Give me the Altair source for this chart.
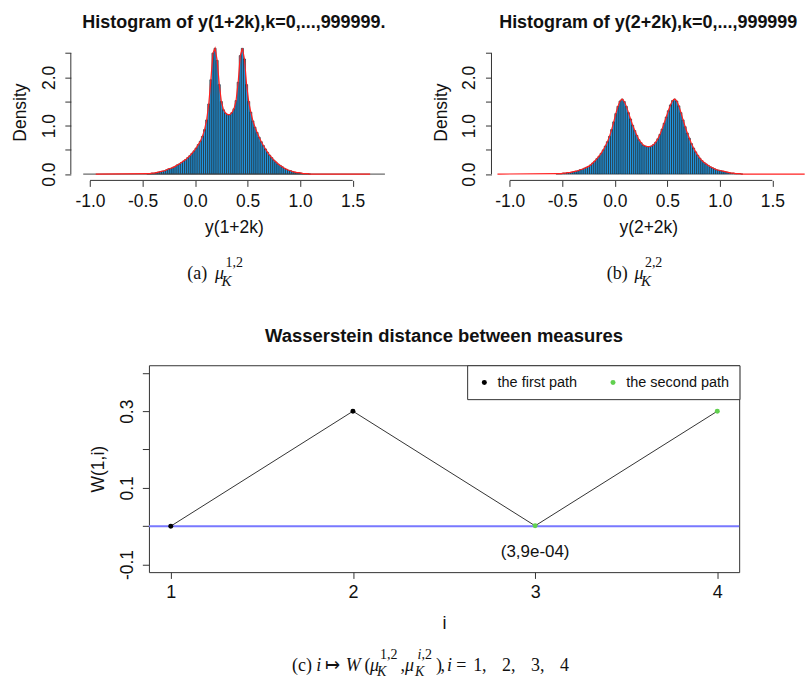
import altair as alt
import pandas as pd

# ---------------------------------------------------------------- data
BIN_W = 0.02

# (a) histogram of y(1+2k): density per 0.02-wide bin, first bin starts at -0.46
A_FIRST_BIN = -0.46
A_DENSITY = [
    0.01, 0.01, 0.02, 0.02, 0.03, 0.04, 0.05, 0.06, 0.07, 0.09,
    0.11, 0.12, 0.14, 0.16, 0.19, 0.21, 0.24, 0.27, 0.30, 0.34,
    0.38, 0.43, 0.48,
    0.54, 0.61, 0.68, 0.78, 0.92, 1.12, 1.45, 1.95, 2.50, 2.60,
    2.35, 1.85, 1.50, 1.33, 1.26, 1.23, 1.23, 1.27, 1.35, 1.52,
    1.90, 2.45, 2.60, 2.38, 1.85, 1.50, 1.28, 1.10, 0.97, 0.86,
    0.76, 0.67, 0.59, 0.52, 0.45, 0.39, 0.34, 0.29, 0.25, 0.21,
    0.18, 0.15, 0.12, 0.10, 0.08, 0.07, 0.05, 0.04, 0.03, 0.03,
    0.02, 0.01, 0.01, 0.01, 0.00,
]
A_CURVE_ENDS = [-0.946, 1.666]
A_BASELINE_ENDS = [-1.065, 1.807]

# (b) histogram of y(2+2k), first bin starts at -0.56
B_FIRST_BIN = -0.56
B_DENSITY = [
    0.01, 0.01, 0.01, 0.02, 0.02, 0.03, 0.03, 0.04, 0.05, 0.06,
    0.07, 0.09, 0.10, 0.12, 0.14, 0.16, 0.19, 0.23, 0.27, 0.32,
    0.37, 0.43, 0.50, 0.58, 0.67, 0.78, 0.92, 1.08,
    1.25, 1.40, 1.51, 1.55, 1.50, 1.40, 1.27, 1.14, 1.01, 0.90,
    0.80, 0.71, 0.65, 0.60, 0.58, 0.57, 0.57, 0.58, 0.61, 0.66,
    0.73, 0.82, 0.93, 1.05, 1.18, 1.31, 1.43, 1.52, 1.55, 1.51,
    1.41, 1.27, 1.12, 0.98, 0.85, 0.74, 0.63, 0.54, 0.46, 0.39,
    0.33, 0.28, 0.24, 0.21, 0.18, 0.15, 0.13, 0.11, 0.09, 0.08,
    0.07, 0.06, 0.05, 0.04, 0.03, 0.02, 0.02, 0.01, 0.01, 0.01, 0.00,
]
B_CURVE_ENDS = [-1.117, 1.808]

HIST_X_TICKS = [-1.0, -0.5, 0.0, 0.5, 1.0, 1.5]
HIST_Y_TICKS = [0.0, 0.5, 1.0, 1.5, 2.0, 2.5]

# (c) Wasserstein distances
W_I = [1, 2, 3, 4]
W_VALUE = [0.0, 0.3, 0.0009, 0.3]
W_PATH = ["the first path", "the first path", "the second path", "the second path"]
PATH_NAMES = ["the first path", "the second path"]
W_X_TICKS = [1, 2, 3, 4]
W_Y_TICKS = [-0.1, 0.0, 0.1, 0.2, 0.3, 0.4]
ANNOT_TEXT = ["(3,9e-04)"]
ANNOT_X = [3]
ANNOT_Y = [-0.081]

# ---------------------------------------------------------------- style / layout
SANS = "Liberation Sans, Arial, sans-serif"
SERIF = "Liberation Serif, Times New Roman, serif"
TEXT = "#111111"
AXC = "#333333"
BAR_FILL = "#2196e0"
BAR_EDGE = "#1b1b1b"
RED = "#ff2020"
BLUE = "#7878ff"
GREEN = "#61d04f"

HIST_H = 137
HIST_YDOM = [-0.13, 2.695]
A_W = 327
A_XDOM = [-1.183, 1.922]
B_W = 314.3
B_XDOM = [-1.174, 1.811]
A_ORIGIN = (70.0, 42.0)
B_ORIGIN = (491.7, 42.0)
C_ORIGIN = (148.3, 364.3)

W_W = 591.7
W_H = 207.4
W_XDOM = [0.88, 4.12]
W_YDOM = [-0.12, 0.42]

# caption pieces: text, x (page px), baseline y (page px), font size, italic
CAP_A = [("(a)", 186.7, 278.3, 18, False), ("\u03bc", 214.5, 278.3, 18, True),
         ("1,2", 225.0, 265.5, 14, False), ("K", 221.0, 284.5, 15, True)]
CAP_B = [("(b)", 607.3, 278.3, 18, False), ("\u03bc", 635.0, 278.3, 18, True),
         ("2,2", 645.5, 265.5, 14, False), ("K", 641.5, 284.5, 15, True)]
CB = 671.0
CAP_C = [("(c)", 291.7, CB, 18, False), ("i", 316.0, CB, 18, True),
         ("\u21a6", 324.5, CB, 18, False), ("W", 345.5, CB, 18, True),
         ("(", 364.5, CB, 18, False), ("\u03bc", 370.0, CB, 18, True),
         ("1,2", 380.0, CB - 12, 14, False), ("K", 377.0, CB + 5, 14, True),
         (",", 400.5, CB, 18, False), ("\u03bc", 405.0, CB, 18, True),
         ("i", 417.5, CB - 12, 14, True), (",2", 421.5, CB - 12, 14, False),
         ("K", 415.0, CB + 5, 14, True), (")", 436.0, CB, 18, False),
         (",", 440.5, CB, 18, False), ("i", 447.0, CB, 18, True),
         ("=", 456.5, CB, 18, False), ("1,", 473.3, CB, 18, False),
         ("2,", 502.3, CB, 18, False), ("3,", 531.3, CB, 18, False),
         ("4", 560.3, CB, 18, False)]


def caption_layers(pieces, origin):
    out = []
    for (t, x, y, fs, it) in pieces:
        out.append(
            alt.Chart(pd.DataFrame({"t": [t]})).mark_text(
                font=SERIF, fontStyle="italic" if it else "normal", fontSize=fs,
                align="left", baseline="alphabetic", color=TEXT,
                x=round(x - origin[0], 2), y=round(y - origin[1], 2),
            ).encode(text="t:N")
        )
    return out


X_LABEL_EXPR = "datum.value < 0 ? '-' + format(-datum.value, '.1f') : format(datum.value, '.1f')"


def hist_panel(first_bin, dens, curve_ends, base_ends, xdom, width, title, xtitle, caption, origin):
    lo = [round(first_bin + k * BIN_W, 3) for k in range(len(dens))]
    bars = pd.DataFrame({"lo": lo, "hi": [round(v + BIN_W, 3) for v in lo],
                         "d": dens, "zero": [0.0] * len(dens)})
    mids = [round(v + BIN_W / 2, 3) for v in lo]
    curve = pd.DataFrame({"lo": [curve_ends[0]] + mids + [curve_ends[1]],
                          "d": [0.0] + list(dens) + [0.0]})
    xs = alt.Scale(domain=xdom, nice=False, zero=False)
    ys = alt.Scale(domain=HIST_YDOM, nice=False, zero=False)
    xax = alt.Axis(values=HIST_X_TICKS, labelExpr=X_LABEL_EXPR, grid=False, domain=False,
                   ticks=True, tickSize=6, tickColor=AXC, labels=True, labelFont=SANS,
                   labelFontSize=17.5, labelColor=TEXT,
                   labelBaseline="alphabetic", labelAlign="center", labelPadding=20,
                   labelOverlap=False, labelFlush=False,
                   title=xtitle, titleFont=SANS, titleFontSize=17.5, titleFontWeight="normal",
                   titleColor=TEXT, titleBaseline="alphabetic", titleY=52.3)
    yax = alt.Axis(values=HIST_Y_TICKS,
                   labelExpr="datum.value % 1 == 0 ? format(datum.value, '.1f') : ''",
                   grid=False, domain=False, ticks=True, tickSize=6, tickColor=AXC,
                   labels=True, labelFont=SANS,
                   labelFontSize=17.5, labelColor=TEXT, labelAngle=270, labelAlign="center",
                   labelBaseline="alphabetic", labelPadding=10.7, labelOverlap=False,
                   labelFlush=False, title="Density", titleFont=SANS, titleFontSize=17.5,
                   titleFontWeight="normal", titleColor=TEXT, titleAngle=270,
                   titleAlign="center", titleBaseline="alphabetic", titleX=-45,
                   titleY=HIST_H / 2)

    def X(f):
        return alt.X(f, type="quantitative", scale=xs, axis=xax)

    def Y(f):
        return alt.Y(f, type="quantitative", scale=ys, axis=yax)

    layers = [
        alt.Chart(bars).mark_rect(fill=BAR_FILL, stroke=BAR_EDGE, strokeWidth=0.6).encode(
            x=X("lo"), x2="hi", y=Y("d"), y2="zero")
    ]
    if base_ends is not None:
        bdf = pd.DataFrame({"lo": [base_ends[0]], "hi": [base_ends[1]], "d": [0.0]})
        layers.append(alt.Chart(bdf).mark_rule(color="#444444", strokeWidth=1).encode(
            x=X("lo"), x2="hi", y=Y("d")))
    layers.append(alt.Chart(curve).mark_line(color=RED, strokeWidth=1.2).encode(
        x=X("lo"), y=Y("d")))
    xline = pd.DataFrame({"lo": [HIST_X_TICKS[0]], "hi": [HIST_X_TICKS[-1]], "d": [HIST_YDOM[0]]})
    layers.append(alt.Chart(xline).mark_rule(color=AXC, strokeWidth=1).encode(
        x=X("lo"), x2="hi", y=Y("d")))
    yline = pd.DataFrame({"lo": [xdom[0]], "d": [HIST_Y_TICKS[0]], "zero": [HIST_Y_TICKS[-1]]})
    layers.append(alt.Chart(yline).mark_rule(color=AXC, strokeWidth=1).encode(
        x=X("lo"), y=Y("d"), y2="zero"))
    layers += caption_layers(caption, origin)

    return alt.layer(*layers).properties(
        width=width, height=HIST_H,
        title=alt.TitleParams(text=title, font=SANS, fontSize=18, fontWeight="bold", color=TEXT,
                              anchor="middle", frame="group", baseline="alphabetic",
                              offset=0, dy=2.2),
    )


hist_a = hist_panel(A_FIRST_BIN, A_DENSITY, A_CURVE_ENDS, A_BASELINE_ENDS, A_XDOM, A_W,
                    "Histogram of y(1+2k),k=0,...,999999.", "y(1+2k)", CAP_A, A_ORIGIN)
hist_b = hist_panel(B_FIRST_BIN, B_DENSITY, B_CURVE_ENDS, None, B_XDOM, B_W,
                    "Histogram of y(2+2k),k=0,...,999999", "y(2+2k)", CAP_B, B_ORIGIN)

# ---------------------------------------------------------------- bottom chart
wdf = pd.DataFrame({"i": W_I, "w": W_VALUE, "path": W_PATH})
ann = pd.DataFrame({"i": ANNOT_X, "w": ANNOT_Y, "t": ANNOT_TEXT})
zero_df = pd.DataFrame({"w": [0.0]})

wxs = alt.Scale(domain=W_XDOM, nice=False, zero=False)
wys = alt.Scale(domain=W_YDOM, nice=False, zero=False)
wxax = alt.Axis(values=W_X_TICKS, format="d", grid=False, domain=False, ticks=True,
                tickSize=6.3, tickColor=AXC, labels=True, labelFont=SANS, labelFontSize=18,
                labelColor=TEXT, labelBaseline="alphabetic", labelAlign="center", labelPadding=19,
                labelFlush=False, title="i", titleFont=SANS, titleFontSize=18,
                titleFontWeight="normal", titleColor=TEXT, titleBaseline="alphabetic",
                titleY=56.3)
wyax = alt.Axis(values=W_Y_TICKS,
                labelExpr="datum.value == 0.3 ? '0.3' : (datum.value == 0.1 ? '0.1' : (datum.value == -0.1 ? '-0.1' : ''))",
                grid=False, domain=False, ticks=True, tickSize=6.6, tickColor=AXC, labels=True,
                labelFont=SANS, labelFontSize=17.5, labelColor=TEXT, labelAngle=270,
                labelAlign="center", labelBaseline="alphabetic", labelPadding=10,
                labelOverlap=False, labelFlush=False,
                title="W(1,i)", titleFont=SANS, titleFontSize=17.5, titleFontWeight="normal",
                titleColor=TEXT, titleAngle=270, titleAlign="center", titleBaseline="alphabetic",
                titleX=-46, titleY=W_H / 2)


def WX(f):
    return alt.X(f, type="quantitative", scale=wxs, axis=wxax)


def WY(f):
    return alt.Y(f, type="quantitative", scale=wys, axis=wyax)


blue = alt.Chart(zero_df).mark_rule(color=BLUE, strokeWidth=2).encode(y=WY("w"))
path_line = alt.Chart(wdf).mark_line(color="#333333", strokeWidth=1).encode(
    x=WX("i"), y=WY("w"), order="i:Q")
pts = alt.Chart(wdf).mark_circle(size=25, opacity=1).encode(
    x=WX("i"), y=WY("w"),
    color=alt.Color("path:N", scale=alt.Scale(domain=PATH_NAMES, range=["#000000", GREEN]),
                    legend=alt.Legend(orient="top-right", direction="horizontal", title=None,
                                      offset=0, padding=10, strokeColor=AXC, fillColor="white",
                                      cornerRadius=0, symbolType="circle", symbolSize=25,
                                      symbolStrokeWidth=0, labelFont=SANS, labelFontSize=14.5,
                                      labelColor=TEXT, labelOffset=6, columnPadding=28)))
ann_layer = alt.Chart(ann).mark_text(font=SANS, fontSize=17, color=TEXT, align="center",
                                     baseline="alphabetic").encode(
    x=WX("i"), y=WY("w"), text="t:N")

bottom = alt.layer(path_line, blue, pts, ann_layer, *caption_layers(CAP_C, C_ORIGIN)).properties(
    width=W_W, height=W_H,
    view=alt.ViewBackground(stroke=AXC, strokeWidth=1),
    title=alt.TitleParams(text="Wasserstein distance between measures", font=SANS, fontSize=18.5,
                          fontWeight="bold", color=TEXT, anchor="middle", frame="group",
                          baseline="alphabetic", offset=4.5),
)

# invisible page frame (keeps the page at its full extent) in a tiny spacer view
frame_df = pd.DataFrame({"k": [0]})
spacer = alt.Chart(frame_df).mark_rect(opacity=0).encode(
    x=alt.value(-70), x2=alt.value(736), y=alt.value(-364.3), y2=alt.value(314.7)
).properties(width=1, height=1)

row1 = alt.hconcat(hist_a, hist_b, spacing=94.7, bounds="flush")
row2 = alt.hconcat(spacer, bottom, spacing=77.3, bounds="flush").resolve_scale(color="independent")

chart = alt.vconcat(row1, row2, spacing=322.3, bounds="flush").resolve_scale(
    color="independent"
).properties(padding=0, background="white").configure_view(stroke="transparent")

chart.save("out.html", embed_options={"renderer": "svg", "actions": False})
